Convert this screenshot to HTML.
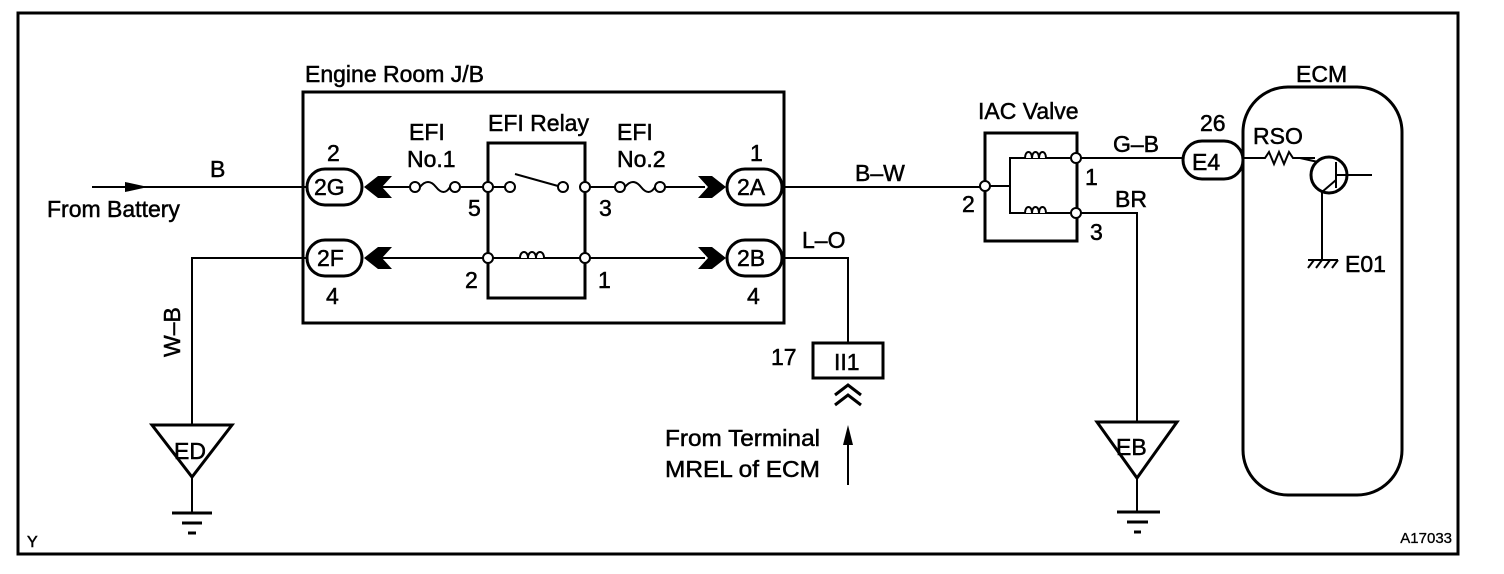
<!DOCTYPE html>
<html><head><meta charset="utf-8"><style>
html,body{margin:0;padding:0;background:#fff;}
svg{display:block;}
text{font-family:"Liberation Sans",sans-serif;fill:#000;font-size:23px;stroke:#000;stroke-width:0.5px;}
</style></head><body>
<svg width="1504" height="574" viewBox="0 0 1504 574" xmlns="http://www.w3.org/2000/svg">
<g fill="none" stroke="#000">
<rect x="18" y="13" width="1440" height="541" stroke-width="3"/>
<line x1="92" y1="187" x2="307" y2="187" stroke-width="2"/>
<rect x="303" y="92" width="481" height="231" stroke-width="3"/>
<rect x="307" y="169" width="55" height="36" rx="18" stroke-width="3"/>
<rect x="307" y="240" width="55" height="36" rx="18" stroke-width="3"/>
<rect x="727" y="169" width="55" height="36" rx="18" stroke-width="3"/>
<rect x="727" y="240" width="55" height="36" rx="18" stroke-width="3"/>
<line x1="380" y1="187" x2="409" y2="187" stroke-width="2"/>
<line x1="460" y1="187" x2="483" y2="187" stroke-width="2"/>
<line x1="493" y1="187" x2="505" y2="187" stroke-width="2"/>
<line x1="590" y1="187" x2="615" y2="187" stroke-width="2"/>
<line x1="665" y1="187" x2="705" y2="187" stroke-width="2"/>
<path d="M420 187 q8 -10 16 0 q8 10 14 0" stroke-width="2"/>
<path d="M625 187 q8 -10 16 0 q8 10 14 0" stroke-width="2"/>
<line x1="515" y1="174" x2="558" y2="186" stroke-width="2"/>
<polyline points="488,187 488,143 585,143 585,187" stroke-width="3"/>
<polyline points="488,187 488,298 585,298 585,187" stroke-width="3"/>
<line x1="380" y1="258" x2="705" y2="258" stroke-width="2"/>
<path d="M520 258 c0 -8 8 -8 8 0 c0 -8 8 -8 8 0 c0 -8 8 -8 8 0" stroke-width="2" fill="#fff"/>
<g stroke-width="2" fill="#fff">
<circle cx="415" cy="187" r="5"/><circle cx="455" cy="187" r="5"/>
<circle cx="488" cy="187" r="5"/><circle cx="510" cy="187" r="5"/>
<circle cx="563" cy="187" r="5"/><circle cx="585" cy="187" r="5"/>
<circle cx="620" cy="187" r="5"/><circle cx="660" cy="187" r="5"/>
<circle cx="488" cy="258" r="5"/><circle cx="585" cy="258" r="5"/>
</g>
<line x1="782" y1="187" x2="980" y2="187" stroke-width="2"/>
<polyline points="782,258 848,258 848,343" stroke-width="2"/>
<polyline points="307,258 192,258 192,425" stroke-width="2"/>
<rect x="813" y="343" width="70" height="35" stroke-width="3"/>
<polyline points="835,395 848,385 861,395" stroke-width="3"/>
<polyline points="835,405 848,395 861,405" stroke-width="3"/>
<line x1="848" y1="440" x2="848" y2="485" stroke-width="2"/>
<polygon points="152,425 232,425 192,477" stroke-width="3"/>
<line x1="192" y1="477" x2="192" y2="513" stroke-width="2"/>
<line x1="172" y1="513" x2="212" y2="513" stroke-width="3"/>
<line x1="182" y1="523" x2="202" y2="523" stroke-width="3"/>
<line x1="188" y1="533" x2="196" y2="533" stroke-width="3"/>
<rect x="985" y="133" width="92" height="108" stroke-width="3"/>
<polyline points="990,186 1010,186" stroke-width="2"/>
<polyline points="1070,158 1010,158 1010,213 1070,213" stroke-width="2"/>
<path d="M1025 158 c0 -8 7 -8 7 0 c0 -8 7 -8 7 0 c0 -8 7 -8 7 0" stroke-width="2" fill="#fff"/>
<path d="M1025 213 c0 -8 7 -8 7 0 c0 -8 7 -8 7 0 c0 -8 7 -8 7 0" stroke-width="2" fill="#fff"/>
<line x1="1075" y1="158" x2="1183" y2="158" stroke-width="2"/>
<polyline points="1075,213 1137,213 1137,422" stroke-width="2"/>
<g stroke-width="2" fill="#fff">
<circle cx="985" cy="186" r="5"/><circle cx="1076" cy="158" r="5"/><circle cx="1076" cy="213" r="5"/>
</g>
<polygon points="1097,422 1177,422 1137,478" stroke-width="3"/>
<line x1="1137" y1="478" x2="1137" y2="512" stroke-width="2"/>
<line x1="1117" y1="512" x2="1160" y2="512" stroke-width="3"/>
<line x1="1127" y1="522" x2="1148" y2="522" stroke-width="3"/>
<line x1="1134" y1="532" x2="1141" y2="532" stroke-width="3"/>
<rect x="1243" y="87" width="159" height="408" rx="45" stroke-width="3"/>
<rect x="1183" y="141" width="60" height="38" rx="19" stroke-width="3" fill="#fff"/>
<path d="M1243 158 h22 l4 -6 l5 12 l5 -12 l5 12 l5 -12 l4 6 h22" stroke-width="2"/>
<circle cx="1329" cy="175" r="18" stroke-width="3"/>
<line x1="1336" y1="162" x2="1336" y2="188" stroke-width="2"/>
<line x1="1336" y1="175" x2="1372" y2="175" stroke-width="2"/>
<line x1="1300" y1="158" x2="1318" y2="162" stroke-width="2"/>
<line x1="1336" y1="180" x2="1322" y2="192" stroke-width="2"/>
<line x1="1322" y1="190" x2="1322" y2="260" stroke-width="2"/>
<line x1="1308" y1="260" x2="1338" y2="260" stroke-width="2"/>
<path d="M1308 268 l6 -8 M1316 268 l6 -8 M1324 268 l6 -8 M1332 268 l6 -8" stroke-width="2"/>
</g>
<g fill="#000">
<polygon points="125,182 148,187 125,192"/>
<polygon points="364,187 378,176 392,176 382,187 392,198 378,198"/>
<polygon points="364,258 378,247 392,247 382,258 392,269 378,269"/>
<polygon points="726,187 712,176 698,176 708,187 698,198 712,198"/>
<polygon points="726,258 712,247 698,247 708,258 698,269 712,269"/>
<polygon points="848,425 843,445 853,445"/>
</g>
<text x="305" y="82">Engine Room J/B</text>
<text x="210" y="177">B</text>
<text x="47" y="217">From Battery</text>
<text x="327" y="161">2</text>
<text x="750" y="161">1</text>
<text x="409" y="140">EFI</text>
<text x="407" y="167">No.1</text>
<text x="488" y="131">EFI Relay</text>
<text x="617" y="140">EFI</text>
<text x="617" y="167">No.2</text>
<text x="468" y="216">5</text>
<text x="599" y="216">3</text>
<text x="465" y="288">2</text>
<text x="598" y="288">1</text>
<text x="326" y="304">4</text>
<text x="747" y="304">4</text>
<text x="314" y="195">2G</text>
<text x="317" y="266">2F</text>
<text x="737" y="195">2A</text>
<text x="737" y="266">2B</text>
<text x="855" y="181">B–W</text>
<text x="802" y="248">L–O</text>
<text x="771" y="365">17</text>
<text x="834" y="370">II1</text>
<text x="820" y="446" text-anchor="end" textLength="155" lengthAdjust="spacingAndGlyphs">From Terminal</text>
<text x="820" y="477" text-anchor="end" textLength="155" lengthAdjust="spacingAndGlyphs">MREL of ECM</text>
<text transform="translate(180,357) rotate(-90)">W–B</text>
<text x="174" y="459">ED</text>
<text x="1116" y="455">EB</text>
<text x="978" y="119">IAC Valve</text>
<text x="962" y="212">2</text>
<text x="1085" y="185">1</text>
<text x="1090" y="240">3</text>
<text x="1115" y="207">BR</text>
<text x="1113" y="152">G–B</text>
<text x="1200" y="131">26</text>
<text x="1192" y="170">E4</text>
<text x="1296" y="82">ECM</text>
<text x="1253" y="144">RSO</text>
<text x="1345" y="272">E01</text>
<text x="27" y="547" style="font-size:16px">Y</text>
<text x="1452" y="543" text-anchor="end" style="font-size:15px;stroke-width:0.3px">A17033</text>
</svg>
</body></html>
